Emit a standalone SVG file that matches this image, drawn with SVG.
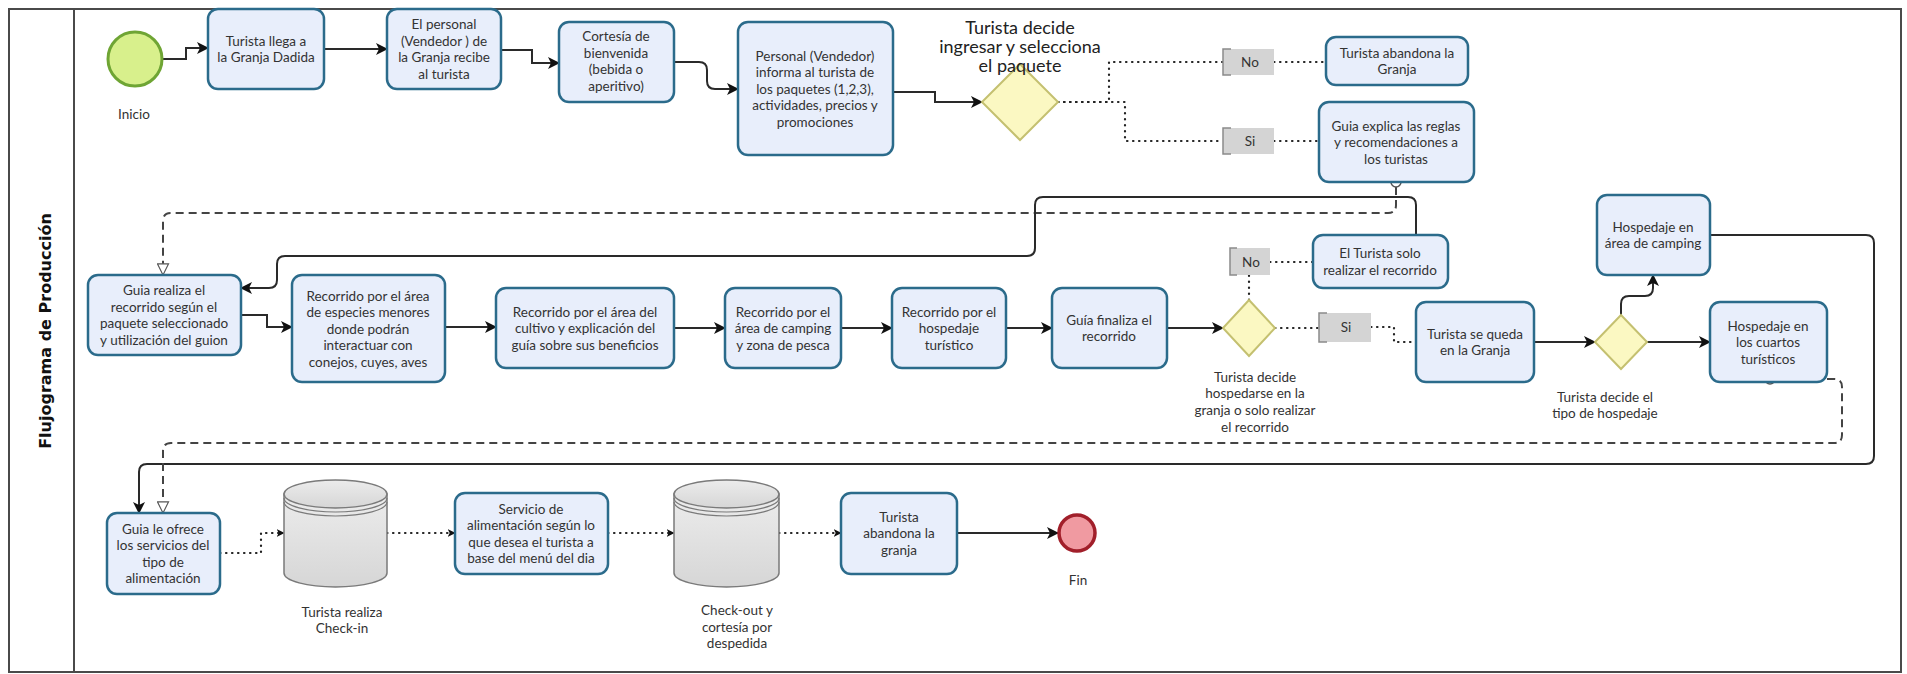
<svg xmlns="http://www.w3.org/2000/svg" width="1907" height="674" viewBox="0 0 1907 674">
<defs>
<style>
.box{fill:#e8eefb;stroke:#2b6b8b;stroke-width:2.5}
.dia{fill:#fbf8c2;stroke:#c4c070;stroke-width:2}
.t{font-family:Lato,"Liberation Sans",sans-serif;font-size:13.5px;fill:#333;text-anchor:middle}
.tb{font-family:Lato,"Liberation Sans",sans-serif;font-size:18px;fill:#222;text-anchor:middle}
.solid{fill:none;stroke:#2a2a2a;stroke-width:2}
.dot{fill:none;stroke:#222;stroke-width:2.2;stroke-dasharray:0.5 5.5;stroke-linecap:round}
.dash{fill:none;stroke:#444;stroke-width:2;stroke-dasharray:8 5}
.lbl{fill:#d4d4d4}
.brk{fill:none;stroke:#8a8a8a;stroke-width:1.5}
.cyl{fill:url(#cg);stroke:#7a7a7a;stroke-width:1.5}
.rim{fill:none;stroke:#7a7a7a;stroke-width:1.2}
.src{fill:#fff;stroke:#555;stroke-width:1.5}
</style>
<linearGradient id="cg" x1="0" y1="0" x2="0" y2="1">
<stop offset="0" stop-color="#ececec"/>
<stop offset="1" stop-color="#d6d6d6"/>
</linearGradient>
<marker id="ah" viewBox="0 0 12 12" refX="11" refY="6" markerWidth="12" markerHeight="12" markerUnits="userSpaceOnUse" orient="auto"><path d="M0,0 L12,6 L0,12 L3,6 Z" fill="#111"/></marker>
<marker id="ahs" viewBox="0 0 12 12" refX="11" refY="6" markerWidth="8" markerHeight="8" markerUnits="userSpaceOnUse" orient="auto"><path d="M0,0 L12,6 L0,12 L3,6 Z" fill="#111"/></marker>
<marker id="hol" viewBox="0 0 14 14" refX="13" refY="7" markerWidth="13" markerHeight="13" markerUnits="userSpaceOnUse" orient="auto"><path d="M1,1 L13,7 L1,13 Z" fill="#fff" stroke="#555" stroke-width="1.2"/></marker>
</defs>
<rect x="0" y="0" width="1907" height="674" fill="#fff"/>
<g id="pool">
<rect x="9" y="9" width="1892" height="663" fill="none" stroke="#4a4a4a" stroke-width="2"/>
<line x1="74" y1="9" x2="74" y2="672" stroke="#4a4a4a" stroke-width="2"/>
<text transform="translate(51,331) rotate(-90)" font-family="'DejaVu Sans',sans-serif" font-weight="bold" font-size="16" fill="#111" text-anchor="middle">Flujograma de Producción</text>
</g>

<g id="connectors">
<path class="solid" d="M162,59 H186 V48 H208" marker-end="url(#ah)"/>
<path class="solid" d="M324,49 H387" marker-end="url(#ah)"/>
<path class="solid" d="M501,50 H532 V63 H559" marker-end="url(#ah)"/>
<path class="solid" d="M674,62 H699 Q707,62 707,70 V81 Q707,89 715,89 H738" marker-end="url(#ah)"/>
<path class="solid" d="M893,92 H935 V102 H982" marker-end="url(#ah)"/>
<path class="dot" d="M1058,102 H1109 V62 H1223"/>
<path class="dot" d="M1274,62 H1326"/>
<path class="dot" d="M1058,102 H1125 V141 H1223"/>
<path class="dot" d="M1274,141 H1319"/>
<path class="dash" d="M1396,187 V205 Q1396,213 1388,213 H171 Q163,213 163,221 V275" marker-end="url(#hol)"/>
<circle class="src" cx="1396" cy="182" r="5"/>
<path class="solid" d="M1416,235 V205 Q1416,197 1408,197 H1043 Q1035,197 1035,205 V248 Q1035,256 1027,256 H285 Q277,256 277,264 V280 Q277,288 269,288 H241" marker-end="url(#ah)"/>
<path class="solid" d="M241,315 H267 V327 H292" marker-end="url(#ah)"/>
<path class="solid" d="M445,327 H496" marker-end="url(#ah)"/>
<path class="solid" d="M674,328 H725" marker-end="url(#ah)"/>
<path class="solid" d="M841,328 H892" marker-end="url(#ah)"/>
<path class="solid" d="M1006,328 H1052" marker-end="url(#ah)"/>
<path class="solid" d="M1167,328 H1223" marker-end="url(#ah)"/>
<path class="dot" d="M1249,300 V275"/>
<path class="dot" d="M1270,262 H1313"/>
<path class="dot" d="M1275,328 H1319"/>
<path class="dot" d="M1371,327 H1394 V342 H1416"/>
<path class="solid" d="M1534,342 H1595" marker-end="url(#ah)"/>
<path class="solid" d="M1647,342 H1710" marker-end="url(#ah)"/>
<path class="solid" d="M1621,315 V304 Q1621,296 1629,296 H1645 Q1653,296 1653,288 V275" marker-end="url(#ah)"/>
<path class="solid" d="M1710,235 H1866 Q1874,235 1874,243 V456 Q1874,464 1866,464 H147 Q139,464 139,472 V513" marker-end="url(#ah)"/>
<path class="dash" d="M1775,379 H1834 Q1842,379 1842,387 V435 Q1842,443 1834,443 H171 Q163,443 163,451 V513" marker-end="url(#hol)"/>
<circle class="src" cx="1770" cy="379" r="5"/>
<path class="dot" d="M220,553 H261 V533 H284" marker-end="url(#ahs)"/>
<path class="dot" d="M387,533 H455" marker-end="url(#ahs)"/>
<path class="dot" d="M608,533 H674" marker-end="url(#ahs)"/>
<path class="dot" d="M779,533 H841" marker-end="url(#ahs)"/>
<path class="solid" d="M957,533 H1058" marker-end="url(#ah)"/>
</g>

<g id="inicio">
<circle cx="135" cy="59" r="27" fill="#d8f08c" stroke="#6fa534" stroke-width="3"/>
<text class="t" x="134" y="119">Inicio</text>
</g>
<g id="n1">
<rect class="box" x="208" y="9" width="116" height="80" rx="10"/>
<text class="t" x="266"><tspan x="266" y="46">Turista llega a</tspan><tspan x="266" y="62">la Granja Dadida</tspan></text>
</g>
<g id="n2">
<rect class="box" x="387" y="9" width="114" height="80" rx="10"/>
<text class="t"><tspan x="444" y="29">El personal</tspan><tspan x="444" y="46">(Vendedor ) de</tspan><tspan x="444" y="62">la Granja recibe</tspan><tspan x="444" y="79">al turista</tspan></text>
</g>
<g id="n3">
<rect class="box" x="559" y="22" width="115" height="80" rx="10"/>
<text class="t"><tspan x="616" y="41">Cortesía de</tspan><tspan x="616" y="58">bienvenida</tspan><tspan x="616" y="74">(bebida o</tspan><tspan x="616" y="91">aperitivo)</tspan></text>
</g>
<g id="n4">
<rect class="box" x="738" y="22" width="155" height="133" rx="10"/>
<text class="t"><tspan x="815" y="61">Personal (Vendedor)</tspan><tspan x="815" y="77">informa al turista de</tspan><tspan x="815" y="94">los paquetes (1,2,3),</tspan><tspan x="815" y="110">actividades, precios y</tspan><tspan x="815" y="127">promociones</tspan></text>
</g>
<g id="d1">
<path class="dia" d="M1020,64 L1058,102 L1020,140 L982,102 Z"/>
<text class="tb"><tspan x="1020" y="34">Turista decide</tspan><tspan x="1020" y="53">ingresar y selecciona</tspan><tspan x="1020" y="72">el paquete</tspan></text>
</g>
<g id="no1">
<rect class="lbl" x="1223" y="49" width="51" height="26"/>
<path class="brk" d="M1231,49 H1223 V75 H1231"/>
<text class="t" x="1250" y="67">No</text>
</g>
<g id="si1">
<rect class="lbl" x="1223" y="128" width="51" height="26"/>
<path class="brk" d="M1231,128 H1223 V154 H1231"/>
<text class="t" x="1250" y="146">Si</text>
</g>
<g id="n5">
<rect class="box" x="1326" y="37" width="142" height="48" rx="10"/>
<text class="t"><tspan x="1397" y="58">Turista abandona la</tspan><tspan x="1397" y="74">Granja</tspan></text>
</g>
<g id="n6">
<rect class="box" x="1319" y="102" width="155" height="80" rx="10"/>
<text class="t"><tspan x="1396" y="131">Guia explica las reglas</tspan><tspan x="1396" y="147">y recomendaciones a</tspan><tspan x="1396" y="164">los turistas</tspan></text>
</g>
<g id="n7">
<rect class="box" x="88" y="275" width="153" height="80" rx="10"/>
<text class="t"><tspan x="164" y="295">Guia realiza el</tspan><tspan x="164" y="312">recorrido según el</tspan><tspan x="164" y="328">paquete seleccionado</tspan><tspan x="164" y="345">y utilización del guion</tspan></text>
</g>
<g id="n8">
<rect class="box" x="292" y="275" width="153" height="107" rx="10"/>
<text class="t"><tspan x="368" y="301">Recorrido por el área</tspan><tspan x="368" y="317">de especies menores</tspan><tspan x="368" y="334">donde podrán</tspan><tspan x="368" y="350">interactuar con</tspan><tspan x="368" y="367">conejos, cuyes, aves</tspan></text>
</g>
<g id="n9">
<rect class="box" x="496" y="288" width="178" height="80" rx="10"/>
<text class="t"><tspan x="585" y="317">Recorrido por el área del</tspan><tspan x="585" y="333">cultivo y explicación del</tspan><tspan x="585" y="350">guía sobre sus beneficios</tspan></text>
</g>
<g id="n10">
<rect class="box" x="725" y="288" width="116" height="80" rx="10"/>
<text class="t"><tspan x="783" y="317">Recorrido por el</tspan><tspan x="783" y="333">área de camping</tspan><tspan x="783" y="350">y zona de pesca</tspan></text>
</g>
<g id="n11">
<rect class="box" x="892" y="288" width="114" height="80" rx="10"/>
<text class="t"><tspan x="949" y="317">Recorrido por el</tspan><tspan x="949" y="333">hospedaje</tspan><tspan x="949" y="350">turístico</tspan></text>
</g>
<g id="n12">
<rect class="box" x="1052" y="288" width="115" height="80" rx="10"/>
<text class="t"><tspan x="1109" y="325">Guía finaliza el</tspan><tspan x="1109" y="341">recorrido</tspan></text>
</g>
<g id="d2">
<path class="dia" d="M1249,300 L1275,328 L1249,356 L1223,328 Z"/>
<text class="t"><tspan x="1255" y="382">Turista decide</tspan><tspan x="1255" y="398">hospedarse en la</tspan><tspan x="1255" y="415">granja o solo realizar</tspan><tspan x="1255" y="432">el recorrido</tspan></text>
</g>
<g id="no2">
<rect class="lbl" x="1230" y="248" width="40" height="27"/>
<path class="brk" d="M1237,248 H1230 V275 H1237"/>
<text class="t" x="1251" y="267">No</text>
</g>
<g id="n13">
<rect class="box" x="1313" y="235" width="135" height="53" rx="10"/>
<text class="t"><tspan x="1380" y="258">El Turista solo</tspan><tspan x="1380" y="275">realizar el recorrido</tspan></text>
</g>
<g id="si2">
<rect class="lbl" x="1319" y="313" width="52" height="29"/>
<path class="brk" d="M1327,313 H1319 V342 H1327"/>
<text class="t" x="1346" y="332">Si</text>
</g>
<g id="n14">
<rect class="box" x="1416" y="302" width="118" height="80" rx="10"/>
<text class="t"><tspan x="1475" y="339">Turista se queda</tspan><tspan x="1475" y="355">en la Granja</tspan></text>
</g>
<g id="d3">
<path class="dia" d="M1621,315 L1647,342 L1621,369 L1595,342 Z"/>
<text class="t"><tspan x="1605" y="402">Turista decide el</tspan><tspan x="1605" y="418">tipo de hospedaje</tspan></text>
</g>
<g id="n15">
<rect class="box" x="1597" y="195" width="113" height="80" rx="10"/>
<text class="t"><tspan x="1653" y="232">Hospedaje en</tspan><tspan x="1653" y="248">área de camping</tspan></text>
</g>
<g id="n16">
<rect class="box" x="1710" y="302" width="117" height="80" rx="10"/>
<text class="t"><tspan x="1768" y="331">Hospedaje en</tspan><tspan x="1768" y="347">los cuartos</tspan><tspan x="1768" y="364">turísticos</tspan></text>
</g>
<g id="n17">
<rect class="box" x="107" y="513" width="113" height="81" rx="10"/>
<text class="t"><tspan x="163" y="534">Guia le ofrece</tspan><tspan x="163" y="550">los servicios del</tspan><tspan x="163" y="567">tipo de</tspan><tspan x="163" y="583">alimentación</tspan></text>
</g>
<g id="c1">
<path class="cyl" d="M284,494 V573 A51.5,14 0 0 0 387,573 V494 Z"/>
<ellipse class="cyl" cx="335.5" cy="494" rx="51.5" ry="14"/>
<path class="rim" d="M284,498 A51.5,14 0 0 0 387,498"/>
<path class="rim" d="M284,502 A51.5,14 0 0 0 387,502"/>
<text class="t"><tspan x="342" y="617">Turista realiza</tspan><tspan x="342" y="633">Check-in</tspan></text>
</g>
<g id="n18">
<rect class="box" x="455" y="493" width="153" height="81" rx="10"/>
<text class="t"><tspan x="531" y="514">Servicio de</tspan><tspan x="531" y="530">alimentación según lo</tspan><tspan x="531" y="547">que desea el turista a</tspan><tspan x="531" y="563">base del menú del dia</tspan></text>
</g>
<g id="c2">
<path class="cyl" d="M674,494 V573 A52.5,14 0 0 0 779,573 V494 Z"/>
<ellipse class="cyl" cx="726.5" cy="494" rx="52.5" ry="14"/>
<path class="rim" d="M674,498 A52.5,14 0 0 0 779,498"/>
<path class="rim" d="M674,502 A52.5,14 0 0 0 779,502"/>
<text class="t"><tspan x="737" y="615">Check-out y</tspan><tspan x="737" y="632">cortesía por</tspan><tspan x="737" y="648">despedida</tspan></text>
</g>
<g id="n19">
<rect class="box" x="841" y="493" width="116" height="81" rx="10"/>
<text class="t"><tspan x="899" y="522">Turista</tspan><tspan x="899" y="538">abandona la</tspan><tspan x="899" y="555">granja</tspan></text>
</g>
<g id="fin">
<circle cx="1077" cy="533" r="18" fill="#f09aa1" stroke="#a11f2a" stroke-width="3.5"/>
<text class="t" x="1078" y="585">Fin</text>
</g>
</svg>
